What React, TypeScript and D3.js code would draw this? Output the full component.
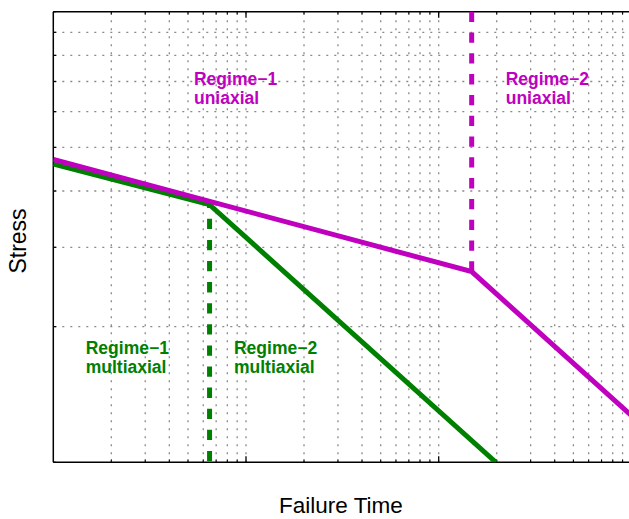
import React from "react";
import * as d3 from "d3";

// ---- data (log–log axes) ----
const uniaxialTime = [1, 148.3, 1000];
const uniaxialStress = [4.7, 2.65, 1.27];
const multiaxialTime = [1, 6.47, 198];
const multiaxialStress = [4.59, 3.73, 1];

const uniaxialTransitionTime = [148.3, 148.3];
const uniaxialTransitionStress = [10, 2.65];
const multiaxialTransitionTime = [6.47, 6.47];
const multiaxialTransitionStress = [3.73, 1];

const xDomain = [1, 1000];
const yDomain = [1, 10];
const xDecades = [1, 10, 100];
const mantissas = [2, 3, 4, 5, 6, 7, 8, 9];
const yGridValues = [2, 3, 4, 5, 6, 7, 8, 9];
const yTickValues = [1, 2, 3, 4, 5, 6, 7, 8, 9, 10];

const annotationTexts = [
  ["Regime\u22121", "uniaxial"],
  ["Regime\u22122", "uniaxial"],
  ["Regime\u22121", "multiaxial"],
  ["Regime\u22122", "multiaxial"],
];
const annotationTime = [5.37, 222.7, 1.473, 8.66];
const annotationStress = [6.88, 6.88, 1.739, 1.739];
const annotationSeries = ["uni", "uni", "multi", "multi"];

const MAGENTA = "#bf00bf";
const GREEN = "#008000";

export default function App() {
  const W = 629;
  const H = 519;
  const left = 53.3;
  const right = 631.4;
  const top = 11.7;
  const bottom = 462.3;

  const x = d3.scaleLog().domain(xDomain).range([left, right]);
  const y = d3.scaleLog().domain(yDomain).range([bottom, top]);

  const xMinor: number[] = [];
  xDecades.forEach((d) => mantissas.forEach((m) => xMinor.push(d * m)));
  const xMajor = [10, 100];
  const xGrid = [...xMinor, ...xMajor];

  const line = d3
    .line<[number, number]>()
    .x((d) => x(d[0]))
    .y((d) => y(d[1]));

  const zip = (a: number[], b: number[]) =>
    a.map((v, i) => [v, b[i]] as [number, number]);

  const font = "'Liberation Sans', Arial, Helvetica, sans-serif";

  return (
    <svg
      width={W}
      height={H}
      style={{ position: "absolute", left: 0, top: 0, background: "#fff" }}
    >
      <defs>
        <clipPath id="plotClip">
          <rect x={left} y={top - 3} width={right - left} height={bottom - top + 3} />
        </clipPath>
      </defs>
      <rect x={0} y={0} width={W} height={H} fill="#fff" />

      {/* grid */}
      <g stroke="#8a8a8a" strokeWidth={1.3} strokeDasharray="2 6">
        {xGrid.map((v, i) => (
          <line key={"gx" + i} x1={x(v)} x2={x(v)} y1={bottom} y2={top} />
        ))}
        {yGridValues.map((v, i) => (
          <line key={"gy" + i} x1={left + 1} x2={right} y1={y(v)} y2={y(v)} />
        ))}
      </g>

      {/* axes box + ticks */}
      <g stroke="#000" strokeWidth={1.5} fill="none">
        <line x1={left} x2={right} y1={bottom} y2={bottom} />
        <line x1={left} x2={right} y1={top} y2={top} />
        <line x1={left} x2={left} y1={top} y2={bottom} />
        {xMinor.map((v, i) => (
          <g key={"tx" + i} strokeWidth={1}>
            <line x1={x(v)} x2={x(v)} y1={bottom} y2={bottom - 3} />
            <line x1={x(v)} x2={x(v)} y1={top} y2={top + 3} />
          </g>
        ))}
        {xMajor.map((v, i) => (
          <g key={"tX" + i} strokeWidth={1.3}>
            <line x1={x(v)} x2={x(v)} y1={bottom} y2={bottom - 6} />
            <line x1={x(v)} x2={x(v)} y1={top} y2={top + 6} />
          </g>
        ))}
        {yTickValues.map((v, i) => (
          <line key={"ty" + i} x1={left} x2={left + 3} y1={y(v)} y2={y(v)} strokeWidth={1.2} />
        ))}
      </g>

      {/* data lines */}
      <g clipPath="url(#plotClip)" fill="none" strokeWidth={5} strokeLinejoin="miter">
        <path d={line(zip(multiaxialTime, multiaxialStress)) || ""} stroke={GREEN} />
        <path d={line(zip(uniaxialTime, uniaxialStress)) || ""} stroke={MAGENTA} />
        <path
          d={line(zip(uniaxialTransitionTime, uniaxialTransitionStress)) || ""}
          stroke={MAGENTA}
          strokeWidth={5}
          strokeDasharray="10.3 10.5"
        />
        <path
          d={line(zip(multiaxialTransitionTime, multiaxialTransitionStress)) || ""}
          stroke={GREEN}
          strokeWidth={5}
          strokeDasharray="10.3 10.8"
          strokeDashoffset={7}
        />
      </g>

      {/* annotations */}
      {annotationTexts.map((lines, i) => (
        <text
          key={"ann" + i}
          x={x(annotationTime[i])}
          y={y(annotationStress[i])}
          fill={annotationSeries[i] === "uni" ? MAGENTA : GREEN}
          fontFamily={font}
          fontWeight="bold"
          fontSize={17.5}
        >
          {lines.map((t, j) => (
            <tspan key={j} x={x(annotationTime[i])} dy={j === 0 ? 0 : 18.7}>
              {t}
            </tspan>
          ))}
        </text>
      ))}

      {/* axis labels */}
      <text
        x={341}
        y={513}
        textAnchor="middle"
        fontFamily={font}
        fontSize={22.5}
        fill="#000"
      >
        Failure Time
      </text>
      <text
        transform="translate(26,241) rotate(-90)"
        textAnchor="middle"
        fontFamily={font}
        fontSize={23}
        fill="#000"
      >
        Stress
      </text>
    </svg>
  );
}
